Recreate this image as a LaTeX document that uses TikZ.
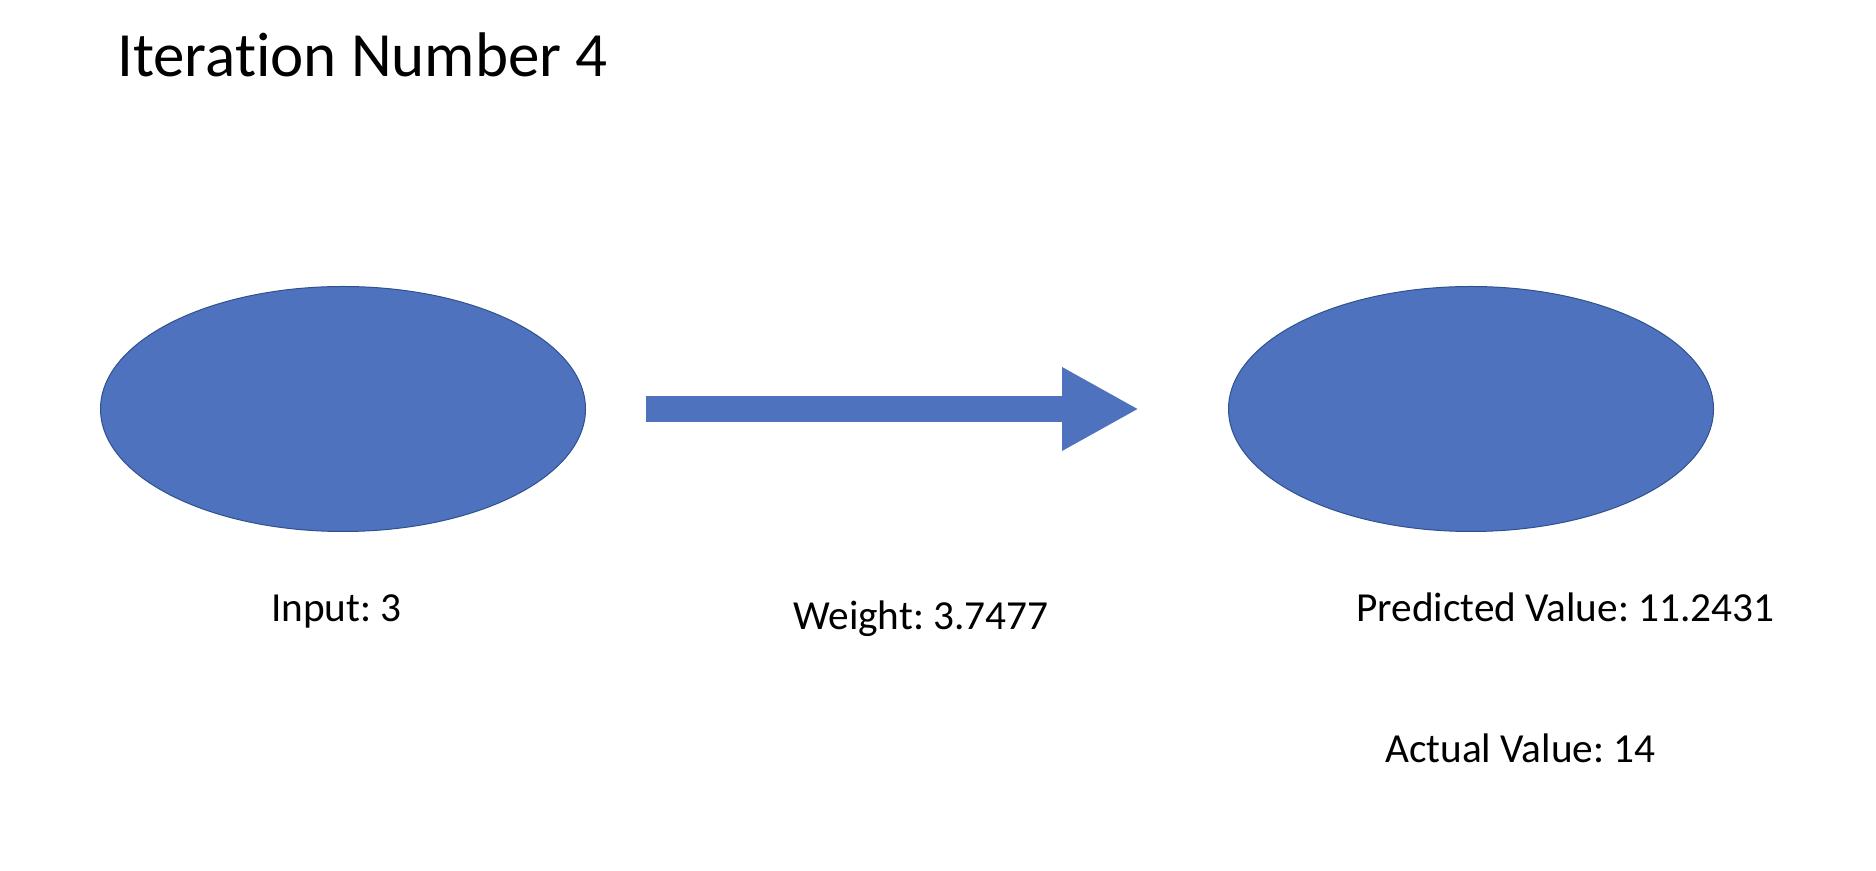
\documentclass[tikz,border=0pt]{standalone}
\usepackage{fontspec}
\setmainfont{Carlito}[Ligatures=CommonOff]
\frenchspacing
\usetikzlibrary{positioning}
\usetikzlibrary{arrows.meta}
\usetikzlibrary{shapes.geometric}
\definecolor{nodeblue}{HTML}{4F72BE}
\definecolor{nodeedge}{HTML}{2F528F}

\begin{document}
\begin{tikzpicture}[x=1pt, y=1pt]
    % Styles:
    \tikzset{neuron/.style={ellipse, fill=nodeblue, draw=nodeedge, line width=1pt, minimum width=485pt, minimum height=245pt, inner sep=0pt}}
    \tikzset{txt/.style={anchor=base west, inner sep=0pt, font=\fontsize{41.3}{50}\selectfont}}

    \useasboundingbox (0,0) rectangle (1876,870);

    % Main nodes:
    \node[neuron] (in) at (343,461) {};
    \node[neuron] (out) [right = 642pt of in] {};

    % Weight arrow:
    \draw[nodeblue, line width=26pt, -{Triangle[length=77pt, width=78pt]}, shorten <=60pt, shorten >=89pt] (in) -- (out);

    % Labels:
    \node[font=\fontsize{63}{75}\selectfont, anchor=base west, inner sep=0pt] (title) at (117,793) {Iteration Number 4};
    \node[txt] (inval) at (271,248) {Input: 3};
    \node[txt] (wval)  at (793,240) {Weight: 3.7477};
    \node[txt] (pred)  at (1356,248) {Predicted Value: 11.2431};
    \node[txt] (act)   at (1385,107) {Actual Value: 14};
\end{tikzpicture}
\end{document}
